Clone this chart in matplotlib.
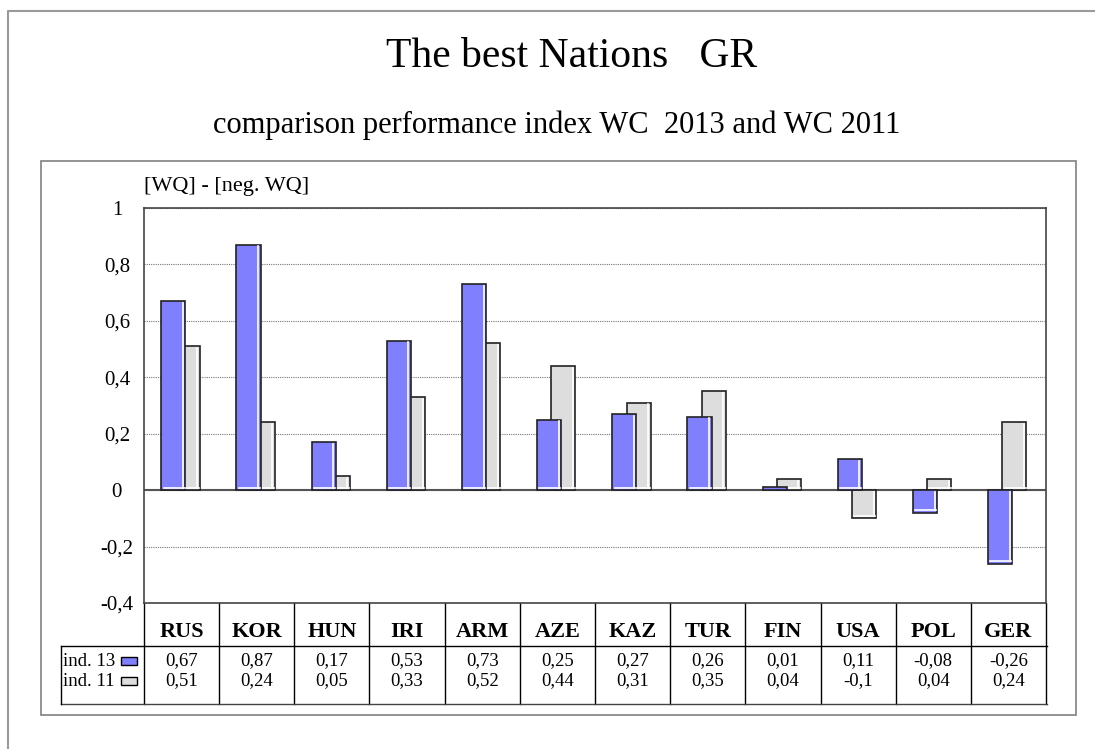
import numpy as np
from matplotlib import pyplot as plt
from matplotlib.patches import Rectangle
from matplotlib.transforms import blended_transform_factory, offset_copy

plt.rcParams['font.family'] = ['Liberation Serif', 'DejaVu Serif']

# data
nations = ['RUS', 'KOR', 'HUN', 'IRI', 'ARM', 'AZE', 'KAZ', 'TUR', 'FIN', 'USA', 'POL', 'GER']
ind13 = [0.67, 0.87, 0.17, 0.53, 0.73, 0.25, 0.27, 0.26, 0.01, 0.11, -0.08, -0.26]
ind11 = [0.51, 0.24, 0.05, 0.33, 0.52, 0.44, 0.31, 0.35, 0.04, -0.1, 0.04, 0.24]
series_names = ['ind. 13', 'ind. 11']
y_ticks = [-0.4, -0.2, 0, 0.2, 0.4, 0.6, 0.8, 1]

blue = '#8080ff'
grey = '#dddddd'
edge = '#222222'


def fmt(v):
    v = round(v, 2)
    if v == int(v):
        return str(int(v))
    return ('%g' % v).replace('.', ',')


W, H = 1095, 749
fig = plt.figure(figsize=(W / 100, H / 100), dpi=100)
fig.set_facecolor('white')

# background axes in pixel coords for frames, titles and table
bg = fig.add_axes([0, 0, 1, 1])
bg.set_xlim(0, W)
bg.set_ylim(H, 0)
bg.axis('off')

# outer and inner frames
bg.plot([8, 8, W], [H, 11, 11], color='#999999', lw=1.5)
bg.add_patch(Rectangle((41, 161), 1076 - 41, 715 - 161, fill=False,
                       edgecolor='#808080', lw=1.2))

bg.text(572, 57, 'The best Nations   GR', ha='center', va='center', fontsize=30)
bg.text(557, 125, 'comparison performance index WC  2013 and WC 2011',
        ha='center', va='center', fontsize=22)
bg.text(144, 187, '[WQ] - [neg. WQ]', ha='left', va='center', fontsize=16)

# main plot area
px_l, px_r, px_t, px_b = 144, 1046, 208, 603
ax = fig.add_axes([px_l / W, 1 - px_b / H, (px_r - px_l) / W, (px_b - px_t) / H])
x = np.arange(len(nations))
ax.set_xlim(-0.5, len(nations) - 0.5)
ax.set_ylim(-0.4, 1)
ax.set_axisbelow(True)
ax.yaxis.grid(True, linestyle=(0, (1, 1)), color='#777777', lw=0.8)
ax.axhline(0, color='#555555', lw=1.5, zorder=1)

bars11 = ax.bar(x + 0.08, ind11, width=0.32, color=grey, edgecolor=edge, lw=1.2, zorder=2)
bars13 = ax.bar(x - 0.11, ind13, width=0.32, color=blue, edgecolor=edge, lw=1.2, zorder=3)

# thin white highlight inside the right and lower edge of each bar
tr_r = offset_copy(ax.transData, fig=fig, x=-2.5, y=0, units='dots')
tr_b = offset_copy(ax.transData, fig=fig, x=0, y=2.5, units='dots')
for bars, zo in [(bars11, 2.1), (bars13, 3.1)]:
    for b in bars:
        h = b.get_height()
        if abs(h) < 0.03:
            continue
        x0, x1 = b.get_x(), b.get_x() + b.get_width()
        lo, hi = min(0, h), max(0, h)
        ax.plot([x1, x1], [lo + 0.008, hi - 0.006], color='white', lw=1.2,
                transform=tr_r, zorder=zo)
        ax.plot([x0 + 0.03, x1 - 0.01], [lo, lo], color='white', lw=1.2,
                transform=tr_b, zorder=zo)

ax.set_xticks([])
ax.set_yticks(y_ticks)
ax.set_yticklabels([fmt(v) for v in y_ticks])
ax.tick_params(axis='y', length=0, pad=19.5, labelsize=15)
for lab in ax.get_yticklabels():
    lab.set_ha('center')
for s in ax.spines.values():
    s.set_color('#444444')
    s.set_linewidth(1.2)

# data table below the plot
trans = blended_transform_factory(ax.transData, bg.transData)
tab_l, head_b, tab_b = 61, 646, 704
row_y = [661, 681]
for i in range(len(nations) + 1):
    bg.plot([i - 0.5, i - 0.5], [px_b, tab_b], color='black', lw=1, transform=trans)
bg.plot([tab_l, px_r + 1], [head_b, head_b], color='black', lw=1)
bg.plot([tab_l, px_r + 1], [tab_b, tab_b], color='#444444', lw=1)
bg.plot([tab_l, tab_l], [head_b, tab_b], color='black', lw=1)

for i, name in enumerate(nations):
    bg.text(i, 632, name, ha='center', va='center', fontsize=16,
            fontweight='bold', transform=trans)
    bg.text(i, row_y[0], fmt(ind13[i]), ha='center', va='center',
            fontsize=13.5, transform=trans)
    bg.text(i, row_y[1], fmt(ind11[i]), ha='center', va='center',
            fontsize=13.5, transform=trans)

for yy, name, col in zip(row_y, series_names, [blue, grey]):
    bg.text(63, yy, name, ha='left', va='center', fontsize=13.5)
    bg.add_patch(Rectangle((121, yy - 4), 16, 8, facecolor=col,
                           edgecolor='black', lw=1))

fig.savefig('out.png', dpi=100)
